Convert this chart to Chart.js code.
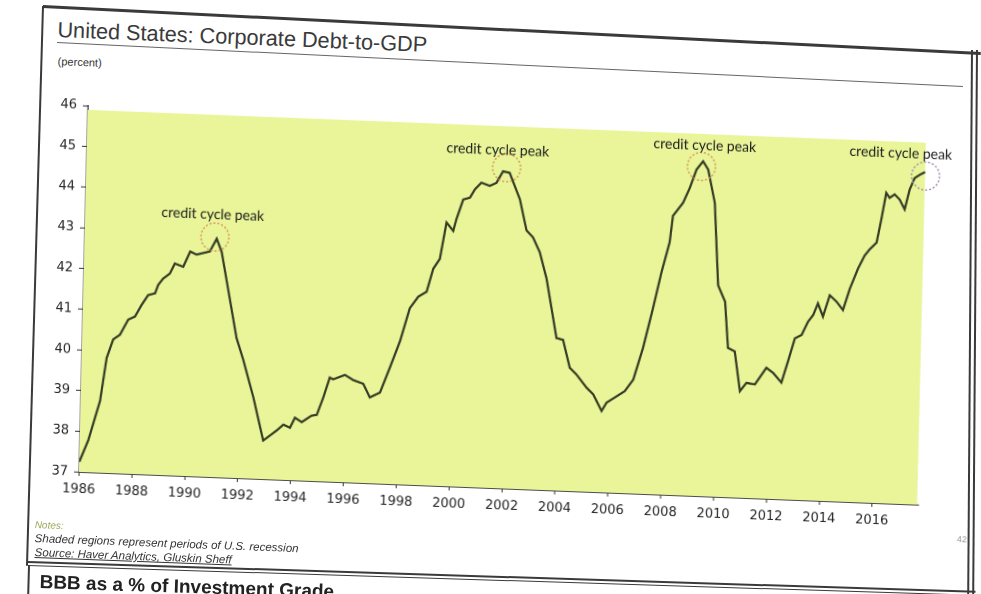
<!DOCTYPE html>
<html>
<head>
<meta charset="utf-8">
<script src="https://cdn.jsdelivr.net/npm/chart.js@4.4.0/dist/chart.umd.min.js"></script>
<style>
  body{margin:0;width:981px;height:594px;overflow:hidden;position:relative;background:#fff;font-family:"Liberation Sans",Arial,sans-serif;color:#333}
  .rule{position:absolute;transform-origin:0 0;background:#3a3a3a}
  .txt{position:absolute;transform-origin:0 0;white-space:nowrap}
  #wrap{position:absolute;left:34px;top:92px;width:936px;height:415px;transform-origin:45px 380px;transform:matrix(0.99924,0.0391,-0.0243,1,0,0)}
</style>
</head>
<body>
<!-- page frame of the scanned sheet -->
<div class="rule" style="left:43px;top:5px;width:939px;height:2.5px;transform:rotate(2.87deg)"></div>
<div class="rule" style="left:42px;top:6px;width:1.5px;height:560px;transform:rotate(1.64deg)"></div>
<div class="rule" style="left:57px;top:42px;width:907px;height:1.3px;background:#666;transform:rotate(2.78deg)"></div>
<div class="rule" style="left:971px;top:50px;width:1.5px;height:545px;transform:rotate(0.4deg)"></div>
<div class="rule" style="left:976px;top:50px;width:1.5px;height:545px;transform:rotate(0.4deg)"></div>
<div class="rule" style="left:28px;top:561px;width:948px;height:2px;transform:rotate(1.8deg)"></div>
<div class="rule" style="left:28px;top:565px;width:948px;height:1px;transform:rotate(1.8deg)"></div>
<div class="rule" style="left:28px;top:566px;width:1.5px;height:30px;transform:rotate(1.6deg)"></div>

<div class="txt" style="left:58px;top:17px;font-size:21.7px;color:#3a3a3a;transform:rotate(2.3deg)">United States: Corporate Debt-to-GDP</div>
<div class="txt" style="left:58px;top:55px;font-size:11px;color:#333;transform:rotate(2.3deg)">(percent)</div>

<div id="wrap"><canvas id="js--chart" width="936" height="415"></canvas></div>

<div class="txt" style="left:35px;top:519px;font-size:10px;font-style:italic;color:#9aab5e;transform:rotate(2.2deg)">Notes:</div>
<div class="txt" style="left:35px;top:532px;font-size:11.5px;font-style:italic;color:#333;transform:rotate(2.2deg)">Shaded regions represent periods of U.S. recession</div>
<div class="txt" style="left:35px;top:546px;font-size:11.5px;font-style:italic;color:#333;text-decoration:underline;transform:rotate(2.2deg)">Source: Haver Analytics, Gluskin Sheff</div>
<div class="txt" style="left:957px;top:534px;font-size:9px;color:#999;transform:rotate(2deg)">42</div>
<div class="txt" style="left:40px;top:571px;font-size:19px;font-weight:bold;color:#222;transform:rotate(1.9deg)">BBB as a % of Investment Grade</div>

<script>
const years = [
  1986.0, 1986.32, 1986.73, 1986.94, 1987.17, 1987.42, 1987.72, 1987.97, 1988.21, 1988.45,
  1988.71, 1988.82, 1989.0, 1989.25, 1989.43, 1989.75, 1990.0, 1990.24, 1990.74, 1990.99,
  1991.19, 1991.83, 1992.1, 1992.52, 1992.93, 1993.18, 1993.43, 1993.68, 1993.93, 1994.11,
  1994.37, 1994.74, 1994.93, 1995.16, 1995.39, 1995.52, 1995.96, 1996.28, 1996.66, 1996.92,
  1997.3, 1997.65, 1998.01, 1998.35, 1998.66, 1998.97, 1999.2, 1999.44, 1999.66, 1999.92,
  2000.03, 2000.27, 2000.52, 2000.7, 2000.94, 2001.26, 2001.51, 2001.75, 2002.0, 2002.41,
  2002.69, 2002.94, 2003.21, 2003.49, 2003.92, 2004.17, 2004.45, 2004.71, 2005.1, 2005.36,
  2005.69, 2005.87, 2006.37, 2006.55, 2006.86, 2007.2, 2007.54, 2007.83, 2008.11, 2008.21,
  2008.58, 2008.82, 2009.06, 2009.3, 2009.5, 2009.78, 2009.98, 2010.26, 2010.41, 2010.67,
  2010.9, 2011.14, 2011.46, 2011.88, 2012.14, 2012.46, 2012.69, 2012.93, 2013.18, 2013.41,
  2013.6, 2013.77, 2013.97, 2014.21, 2014.47, 2014.72, 2014.96, 2015.25, 2015.49, 2015.68,
  2015.93, 2016.09, 2016.25, 2016.38, 2016.57, 2016.76, 2016.96, 2017.13, 2017.31, 2017.51,
  2017.7
];
const debtToGdp = [
  37.25, 37.79, 38.77, 39.83, 40.29, 40.41, 40.79, 40.87, 41.16, 41.41,
  41.46, 41.67, 41.83, 41.96, 42.21, 42.14, 42.52, 42.45, 42.54, 42.86,
  42.54, 40.44, 39.92, 39.0, 37.95, 38.08, 38.21, 38.36, 38.29, 38.54,
  38.44, 38.61, 38.63, 39.06, 39.56, 39.52, 39.64, 39.52, 39.44, 39.11,
  39.24, 39.86, 40.52, 41.34, 41.63, 41.76, 42.33, 42.58, 43.48, 43.28,
  43.57, 44.06, 44.11, 44.32, 44.49, 44.42, 44.5, 44.79, 44.76, 44.12,
  43.36, 43.2, 42.84, 42.2, 40.75, 40.71, 40.03, 39.87, 39.56, 39.4,
  39.0, 39.21, 39.43, 39.51, 39.8, 40.59, 41.57, 42.47, 43.21, 43.86,
  44.19, 44.56, 45.02, 45.23, 45.03, 44.22, 42.2, 41.8, 40.67, 40.59,
  39.62, 39.83, 39.8, 40.22, 40.1, 39.87, 40.4, 40.97, 41.06, 41.39,
  41.56, 41.85, 41.53, 42.06, 41.91, 41.71, 42.24, 42.74, 43.07, 43.23,
  43.4, 43.98, 44.63, 44.51, 44.6, 44.48, 44.24, 44.73, 45.02, 45.11,
  45.18
];

const tickYears = [1986, 1988, 1990, 1992, 1994, 1996, 1998, 2000, 2002, 2004, 2006, 2008, 2010, 2012, 2014, 2016];
const tickValues = [37, 38, 39, 40, 41, 42, 43, 44, 45, 46];

// highlighted band behind the line
const shadeFrom = [1986];
const shadeTo = [2017.7];
const shadeTop = [45.9];

// "credit cycle peak" circles and their captions
const peakYears = [1990.92, 2001.88, 2009.24, 2017.72];
const peakValues = [42.9, 44.88, 45.1, 45.08];
const peakText = ['credit cycle peak', 'credit cycle peak', 'credit cycle peak', 'credit cycle peak'];
const captionYears = [1990.82, 2001.53, 2009.35, 2016.76];
const captionValues = [43.45, 45.31, 45.62, 45.62];

const points = [];
for (let i = 0; i < years.length; i++) {
  points.push({x: years[i], y: debtToGdp[i]});
}

const marks = {
  id: 'marks',
  beforeDatasetsDraw(chart) {
    const ctx = chart.ctx;
    const x = chart.scales.x, y = chart.scales.y;
    ctx.save();
    ctx.fillStyle = 'rgb(233,245,152)';
    for (let i = 0; i < shadeFrom.length; i++) {
      const x1 = x.getPixelForValue(shadeFrom[i]);
      const x2 = x.getPixelForValue(shadeTo[i]);
      const yt = y.getPixelForValue(shadeTop[i]);
      const yb = y.getPixelForValue(tickValues[0]);
      ctx.fillRect(x1, yt, x2 - x1, yb - yt);
    }
    ctx.restore();
  },
  afterDatasetsDraw(chart) {
    const ctx = chart.ctx;
    const x = chart.scales.x, y = chart.scales.y;
    ctx.save();
    ctx.lineWidth = 1.4;
    ctx.setLineDash([2, 2]);
    for (let i = 0; i < peakYears.length; i++) {
      ctx.strokeStyle = i === peakYears.length - 1 ? '#9d8cab' : '#d9925f';
      ctx.beginPath();
      ctx.arc(x.getPixelForValue(peakYears[i]), y.getPixelForValue(peakValues[i]), 14, 0, Math.PI * 2);
      ctx.stroke();
    }
    ctx.setLineDash([]);
    ctx.fillStyle = '#1d1d1d';
    ctx.font = '14px Lato';
    ctx.textAlign = 'center';
    ctx.textBaseline = 'middle';
    for (let i = 0; i < peakText.length; i++) {
      ctx.fillText(peakText[i], x.getPixelForValue(captionYears[i]), y.getPixelForValue(captionValues[i]));
    }
    ctx.restore();
  }
};

const config = {
  type: 'line',
  data: {
    datasets: [{
      label: 'Corporate Debt-to-GDP',
      data: points,
      borderColor: '#363c25',
      borderWidth: 2.2,
      pointRadius: 0,
      tension: 0
    }]
  },
  options: {
    responsive: false,
    animation: false,
    devicePixelRatio: 2,
    layout: {padding: {left: 0, top: 10, right: 51, bottom: 0}},
    plugins: {legend: {display: false}, tooltip: {enabled: false}},
    scales: {
      x: {
        type: 'linear',
        min: 1986,
        max: 2017.75,
        afterBuildTicks: function(scale) {
          scale.ticks = tickYears.map(function(v){ return {value: v}; });
        },
        afterFit: function(scale) { scale.height = 35; },
        ticks: {
          color: '#262626',
          font: {family: 'DejaVu Sans', size: 13},
          padding: 6,
          maxRotation: 0,
          autoSkip: false,
          callback: function(v){ return String(v); }
        },
        grid: {display: true, drawOnChartArea: false, drawTicks: true, tickLength: 4, color: '#333'},
        border: {display: true, color: '#333', width: 1.3}
      },
      y: {
        min: 37,
        max: 46,
        afterBuildTicks: function(scale) {
          scale.ticks = tickValues.map(function(v){ return {value: v}; });
        },
        afterFit: function(scale) { scale.width = 45; },
        ticks: {
          color: '#262626',
          font: {family: 'DejaVu Sans', size: 13},
          padding: 6
        },
        grid: {display: true, drawOnChartArea: false, drawTicks: true, tickLength: 5, color: '#333'},
        border: {display: true, color: '#333', width: 1.3}
      }
    }
  },
  plugins: [marks]
};

const chart = new Chart(document.getElementById('js--chart'), config);
</script>
</body>
</html>
